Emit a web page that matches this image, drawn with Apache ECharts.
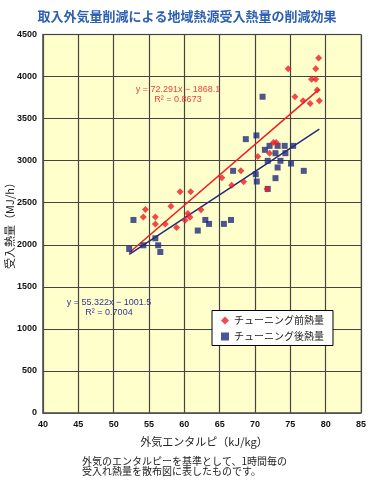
<!DOCTYPE html>
<html><head><meta charset="utf-8">
<script src="https://cdn.jsdelivr.net/npm/echarts@6/dist/echarts.min.js"></script>
<style>html,body{margin:0;padding:0;background:#fff}#c{width:374px;height:480px}</style>
</head><body><div id="c"></div>
<script>
const beforeName = 'チューニング前熱量';
const afterName = 'チューニング後熱量';
const beforeX = [54.5,54.2,55.9,55.9,57.3,58.1,58.9,59.4,60.9,60.5,60.8,60.1,62.35,65.3,66.7,68.0,68.4,70.4,71.7,72.06,72.6,73.0,74.7,75.65,76.8,77.8,78.0,78.6,78.6,78.8,79.0,79.1];
const beforeY = [2419,2331,2331,2248,2248,2458,2205,2629,2629,2371,2327,2292,2415,2796,2708,2879,2748,3050,2664,3089,3217,3217,4093,3760,3712,3681,3967,3967,4093,3839,4220,3712];
const afterX = [52.2,52.8,54.2,55.9,56.3,56.6,61.9,62.97,63.5,65.6,66.6,66.9,68.7,70.1,70.2,70.25,71.07,71.4,71.8,71.8,72.06,72.9,72.9,73.2,73.2,73.6,74.2,74.3,75.1,75.4,76.9];
const afterY = [1950,2295,1994,2077,1994,1914,2169,2295,2248,2248,2295,2879,3256,2839,3300,2752,3760,3129,2998,2664,3176,3089,2792,3176,2919,2998,3176,3089,2966,3176,2879];
const trendBeforeX = [52.2, 79.1];
const trendBeforeY = [1905, 3850];
const trendAfterX = [52.2, 79.1];
const trendAfterY = [1886, 3375];
const beforeEq = ['y = 72.291x − 1868.1', 'R² = 0.8673'];
const afterEq = ['y = 55.322x − 1001.5', 'R² = 0.7004'];
const titleText = '取入外気量削減による地域熱源受入熱量の削減効果';
const xAxisName = '外気エンタルピ（kJ/kg）';
const yAxisName = '受入熱量（MJ/h）';
const noteLines = ['外気のエンタルピーを基準として、1時間毎の', '受入れ熱量を散布図に表したものです。'];

const zip = (a, b) => a.map((v, i) => [v, b[i]]);
const RED = '#ee1c25', BLUE = '#1f2a7d';
const JP = '"Noto Sans CJK JP", "Noto Sans", sans-serif';
const chart = echarts.init(document.getElementById('c'));
chart.setOption({
  animation: false,
  backgroundColor: '#ffffff',
  title: { text: titleText, left: 'center', top: 5,
    textStyle: { color: '#2c5fb3', fontSize: 13, fontWeight: 'bold', fontFamily: JP } },
  grid: { left: 43, right: 13, top: 34.5, bottom: 67, show: true,
    backgroundColor: '#ffffcc', borderColor: '#bdbdb0', borderWidth: 1.5 },
  xAxis: { type: 'value', min: 40, max: 85, interval: 5,
    axisLine: { show: true, lineStyle: { color: '#555', width: 1.5 } },
    axisTick: { show: false },
    axisLabel: { fontSize: 9, fontWeight: 'bold', color: '#111', margin: 7, fontFamily: 'Liberation Sans, Arial',
      formatter: v => String(v) },
    splitLine: { show: true, lineStyle: { color: '#444', width: 1.2 } } },
  yAxis: { type: 'value', min: 0, max: 4500, interval: 500,
    axisLine: { show: true, lineStyle: { color: '#555', width: 1.5 } },
    axisTick: { show: false },
    axisLabel: { fontSize: 9, fontWeight: 'bold', color: '#111', margin: 6, fontFamily: 'Liberation Sans, Arial',
      formatter: v => String(v) },
    splitLine: { show: true, lineStyle: { color: '#444', width: 1.2 } } },
  legend: { orient: 'vertical', left: 212, top: 310.5,
    backgroundColor: '#fff', borderColor: '#000', borderWidth: 1,
    padding: [5, 9, 4, 9], itemGap: 6, itemWidth: 8, itemHeight: 8,
    textStyle: { fontSize: 10, color: '#222', fontFamily: JP },
    data: [{ name: beforeName, icon: 'diamond' }, { name: afterName, icon: 'rect' }] },
  series: [
    { name: 'trendAfter', type: 'line', data: zip(trendAfterX, trendAfterY), symbol: 'none',
      lineStyle: { color: BLUE, width: 1.5 }, z: 3 },
    { name: 'trendBefore', type: 'line', data: zip(trendBeforeX, trendBeforeY), symbol: 'none',
      lineStyle: { color: RED, width: 1.5 }, z: 3 },
    { name: afterName, type: 'scatter', data: zip(afterX, afterY), symbol: 'rect', symbolSize: 6,
      itemStyle: { color: BLUE }, z: 4 },
    { name: beforeName, type: 'scatter', data: zip(beforeX, beforeY), symbol: 'diamond', symbolSize: 7,
      itemStyle: { color: RED }, z: 5 }
  ],
  graphic: [
    { type: 'text', x: 178, y: 90, style: { text: beforeEq[0], fill: '#f04040', fontSize: 9, fontFamily: 'Liberation Sans, Arial', align: 'center', verticalAlign: 'middle' }, z: 10 },
    { type: 'text', x: 178, y: 100, style: { text: beforeEq[1], fill: '#f04040', fontSize: 9, fontFamily: 'Liberation Sans, Arial', align: 'center', verticalAlign: 'middle' }, z: 10 },
    { type: 'text', x: 109, y: 303, style: { text: afterEq[0], fill: '#333399', fontSize: 9, fontFamily: 'Liberation Sans, Arial', align: 'center', verticalAlign: 'middle' }, z: 10 },
    { type: 'text', x: 109, y: 312.5, style: { text: afterEq[1], fill: '#333399', fontSize: 9, fontFamily: 'Liberation Sans, Arial', align: 'center', verticalAlign: 'middle' }, z: 10 },
    { type: 'text', x: 10, y: 223, rotation: Math.PI / 2, style: { text: yAxisName, fill: '#222', fontSize: 11, fontFamily: JP, align: 'center', verticalAlign: 'middle' } },
    { type: 'text', x: 204, y: 442, style: { text: xAxisName, fill: '#222', fontSize: 11, fontFamily: JP, align: 'center', verticalAlign: 'middle' } },
    { type: 'text', x: 82, y: 461, style: { text: noteLines[0], fill: '#222', fontSize: 10, fontFamily: JP, align: 'left', verticalAlign: 'middle' } },
    { type: 'text', x: 82, y: 471, style: { text: noteLines[1], fill: '#222', fontSize: 10, fontFamily: JP, align: 'left', verticalAlign: 'middle' } }
  ]
});
</script></body></html>
